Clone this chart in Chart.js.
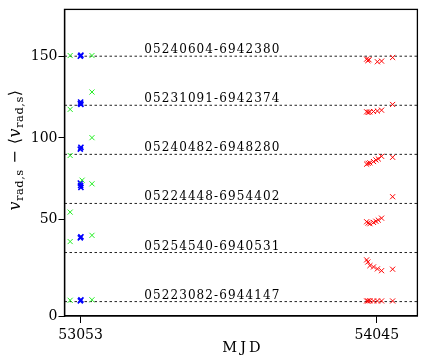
<!DOCTYPE html>
<html>
<head>
<meta charset="utf-8">
<script src="https://cdn.jsdelivr.net/npm/chart.js@4.4.1/dist/chart.umd.min.js"></script>
<style>
  body { margin: 0; background: #fff; }
  canvas { display: block; }
</style>
</head>
<body>
<canvas id="graph" width="423" height="363"></canvas>
<script>
// star ids and the offsets each curve is shifted by
const starNames = ['05240604-6942380', '05231091-6942374', '05240482-6948280',
                   '05224448-6954402', '05254540-6940531', '05223082-6944147'];
const starOffsets = [150, 120, 90, 60, 30, 0];
const labelMJD = 53266;

const xTicks = [53053, 54045];
const yTicks = [-8.8, 50, 100, 150];
const yTickLabels = ['0', '50', '100', '150'];

// green epochs
const greenMJD = [53018, 53091, 53018, 53091, 53018, 53091, 53018, 53058, 53091, 53018, 53091, 53018, 53091];
const greenVel = [150.4, 150.4, 117.5, 128.1, 89.3, 100.2, 54.7, 74.2, 72.0, 36.7, 40.5, 0.8, 1.1];

// blue epochs (several per night, they overlap)
const blueMJD = [53052, 53054, 53052, 53053, 53054, 53052, 53054, 53052, 53053, 53054, 53052, 53054, 53052, 53054];
const blueVel = [150.0, 150.6, 121.0, 122.0, 120.6, 93.2, 94.3, 72.5, 71.0, 69.8, 39.0, 39.6, 0.5, 1.0];

// red epochs
const redMJD = [54011, 54015, 54019, 54047, 54061, 54098,
                54011, 54016, 54021, 54034, 54047, 54061, 54098,
                54011, 54016, 54022, 54034, 54042, 54050, 54061, 54098,
                54011, 54016, 54022, 54034, 54042, 54050, 54061, 54098,
                54011, 54015, 54022, 54034, 54047, 54061, 54098,
                54011, 54016, 54022, 54034, 54047, 54061, 54098];
const redVel = [148.2, 147.3, 147.8, 146.6, 147.0, 149.2,
                116.0, 115.6, 115.9, 116.2, 116.5, 117.0, 120.5,
                84.0, 84.5, 84.8, 85.6, 86.6, 87.2, 88.8, 88.2,
                48.8, 48.0, 47.6, 48.4, 49.1, 49.8, 51.0, 64.1,
                25.5, 24.2, 22.0, 21.2, 20.0, 18.9, 19.8,
                0.4, 0.4, 0.5, 0.4, 0.4, 0.4, 0.4];

const X_MIN = 52999, X_MAX = 54181;
const Y_MIN = -8.8, Y_MAX = 178.6;

function pts(xs, ys) {
  return xs.map((v, i) => ({x: v, y: ys[i]}));
}

var datasets = starOffsets.map(off => ({
  type: 'line',
  data: [{x: X_MIN, y: off}, {x: X_MAX, y: off}],
  borderColor: '#222',
  borderWidth: 1,
  borderDash: [2.5, 2.5],
  pointRadius: 0,
  order: 5
}));

function crosses(xs, ys, color, w) {
  return {
    data: pts(xs, ys),
    pointStyle: 'crossRot',
    pointRadius: 3.6,
    borderColor: color,
    backgroundColor: color,
    borderWidth: w,
    showLine: false,
    order: 1
  };
}
datasets.push(crosses(greenMJD, greenVel, '#22ee22', 1));
datasets.push(crosses(blueMJD, blueVel, '#0000ff', 1.6));
datasets.push(crosses(redMJD, redVel, '#ff0000', 1));

const tickFont = {family: '"DejaVu Serif"', size: 14};

const decor = {
  id: 'decor',
  afterDraw(chart) {
    const ctx = chart.ctx, a = chart.chartArea;
    const x = chart.scales.x, y = chart.scales.y;
    ctx.save();
    ctx.strokeStyle = '#000';
    ctx.lineWidth = 1.3;
    ctx.strokeRect(a.left, a.top, a.right - a.left, a.bottom - a.top);

    ctx.fillStyle = '#000';
    ctx.font = '12px "DejaVu Serif"';
    ctx.letterSpacing = '1.1px';
    ctx.textAlign = 'left';
    ctx.textBaseline = 'alphabetic';
    starNames.forEach((n, i) => {
      ctx.fillText(n, x.getPixelForValue(labelMJD), y.getPixelForValue(starOffsets[i]) - 3);
    });

    ctx.font = '14.5px "DejaVu Serif"';
    ctx.letterSpacing = '3px';
    ctx.textAlign = 'center';
    ctx.textBaseline = 'middle';
    ctx.fillText('MJD', (a.left + a.right) / 2 + 2, 348);

    // y title: v_rad,s - <v_rad,s>
    ctx.letterSpacing = '0.5px';
    ctx.textAlign = 'left';
    ctx.textBaseline = 'alphabetic';
    ctx.translate(20, 150);
    ctx.rotate(-Math.PI / 2);
    const big = '16px "DejaVu Serif"', it = 'italic 16px "DejaVu Serif"', sub = '11.5px "DejaVu Serif"';
    const parts = [['v', it, 0], ['rad,s', sub, 3], [' \u2212 \u27E8', big, 0], ['v', it, 0], ['rad,s', sub, 3], ['\u27E9', big, 0]];
    let total = 0;
    parts.forEach(p => { ctx.font = p[1]; total += ctx.measureText(p[0]).width; });
    let cx = -total / 2;
    parts.forEach(p => {
      ctx.font = p[1];
      ctx.fillText(p[0], cx, p[2]);
      cx += ctx.measureText(p[0]).width;
    });
    ctx.restore();
  }
};

var context = document.getElementById('graph').getContext('2d');
const chart = new Chart(context, {
  type: 'scatter',
  data: {datasets: datasets},
  options: {
    responsive: false,
    animation: false,
    devicePixelRatio: 1,
    layout: {padding: {left: 0, top: 3, right: 2, bottom: 0}},
    plugins: {legend: {display: false}, tooltip: {enabled: false}},
    scales: {
      x: {
        type: 'linear',
        min: X_MIN,
        max: X_MAX,
        afterBuildTicks: s => { s.ticks = xTicks.map(v => ({value: v})); },
        afterFit: s => { s.height = 47; },
        ticks: {font: tickFont, color: '#000', padding: 4, maxRotation: 0, autoSkip: false,
                callback: v => String(v)},
        grid: {drawOnChartArea: false, tickLength: 7, color: '#000', lineWidth: 1},
        border: {color: '#000', width: 1.3}
      },
      y: {
        type: 'linear',
        min: Y_MIN,
        max: Y_MAX,
        afterBuildTicks: s => { s.ticks = yTicks.map(v => ({value: v})); },
        afterFit: s => { s.width = 64.5; },
        ticks: {font: tickFont, color: '#000', padding: 1, autoSkip: false,
                callback: (v, i) => yTickLabels[i]},
        grid: {drawOnChartArea: false, tickLength: 6, color: '#000', lineWidth: 1},
        border: {color: '#000', width: 1.3}
      }
    }
  },
  plugins: [decor]
});
</script>
</body>
</html>
